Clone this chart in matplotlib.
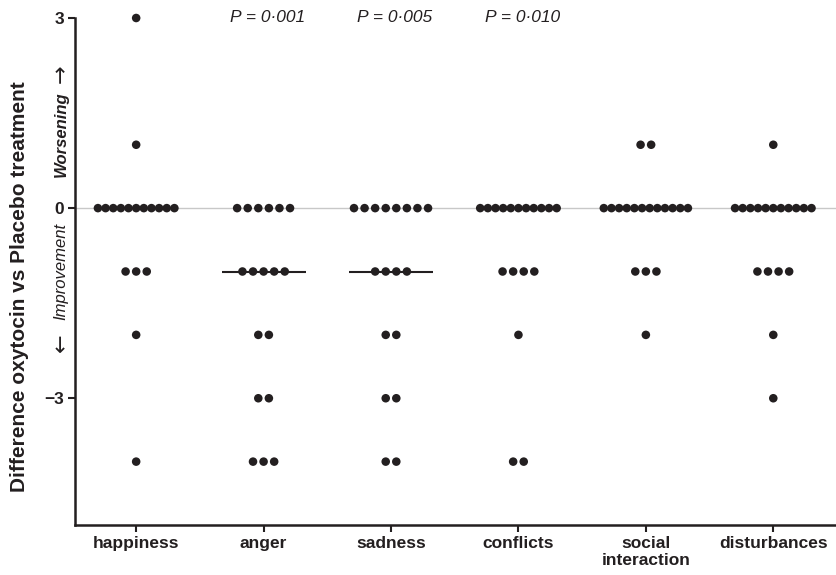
import numpy as np
import matplotlib
matplotlib.use("Agg")
import matplotlib.pyplot as plt
from matplotlib.transforms import blended_transform_factory

plt.rcParams['font.family'] = ['Liberation Sans', 'DejaVu Sans']

categories = ["happiness", "anger", "sadness", "conflicts", "social\ninteraction", "disturbances"]

happiness = [3, 1] + [0] * 11 + [-1] * 3 + [-2, -4]
anger = [0] * 6 + [-1] * 5 + [-2] * 2 + [-3] * 2 + [-4] * 3
sadness = [0] * 8 + [-1] * 4 + [-2] * 2 + [-3] * 2 + [-4] * 2
conflicts = [0] * 11 + [-1] * 4 + [-2] + [-4] * 2
social = [1] * 2 + [0] * 12 + [-1] * 3 + [-2]
disturbances = [1] + [0] * 11 + [-1] * 4 + [-2, -3]
series = [happiness, anger, sadness, conflicts, social, disturbances]

p_labels = {1: "P = 0·001", 2: "P = 0·005", 3: "P = 0·010"}

dark = "#231f20"

fig = plt.figure(figsize=(8.37, 5.75), dpi=100)
ax = fig.add_axes([75 / 837, 1 - 525 / 575, 1 - 75 / 837, (525 - 18) / 575])

ax.set_xlim(-0.48, 5.5)
ax.set_ylim(-5, 3)

ax.axhline(0, color="#c8c8c8", lw=1.0, zorder=1)

for i, vals in enumerate(series):
    vals = np.array(vals)
    for v in np.unique(vals):
        n = int(np.sum(vals == v))
        sp = 0.083 if n <= 8 else 0.06
        offs = (np.arange(n) - (n - 1) / 2) * sp
        ax.scatter(i + offs, np.full(n, v), s=38, color=dark, edgecolors="none",
                   zorder=3, clip_on=False)
    med = np.median(vals)
    ax.plot([i - 0.33, i + 0.33], [med, med], color=dark, lw=1.5, zorder=2,
            solid_capstyle="butt")

for i, lab in p_labels.items():
    ax.text(i + 0.03, 3.0, lab, ha="center", va="center", fontsize=12.5, style="italic",
            color=dark)

ax.set_xticks(range(len(categories)))
ax.set_xticklabels(categories, fontsize=12.5, fontweight="bold", linespacing=1.15,
                   color=dark)
ax.set_yticks([3, 0, -3])
ax.set_yticklabels(["3", "0", "\u22123"], fontsize=12.5, fontweight="bold", color=dark)
ax.tick_params(axis="both", direction="out", length=5, width=1.5, color=dark, pad=3)

for s in ["top", "right"]:
    ax.spines[s].set_visible(False)
for s in ["left", "bottom"]:
    ax.spines[s].set_linewidth(1.8)
    ax.spines[s].set_color(dark)

fig.text(20 / 837, 1 - 287 / 575, "Difference oxytocin vs Placebo treatment",
         rotation=90, ha="center", va="center", fontsize=15, fontweight="bold", color=dark)

trans = blended_transform_factory(ax.transAxes, ax.transData)
xin = -0.018
ax.text(xin, 1.16, "Worsening", rotation=90, ha="center", va="center",
        fontsize=12, fontweight="bold", style="italic", transform=trans, color=dark)
ax.text(xin, 2.12, "\u2192", rotation=90, ha="center", va="center",
        fontsize=16, family="DejaVu Sans", transform=trans, color=dark)
ax.text(xin, -1.0, "Improvement", rotation=90, ha="center", va="center",
        fontsize=12, style="italic", transform=trans, color=dark)
ax.text(xin, -2.12, "\u2190", rotation=90, ha="center", va="center",
        fontsize=16, family="DejaVu Sans", transform=trans, color=dark)

fig.savefig("out.png", dpi=100)
